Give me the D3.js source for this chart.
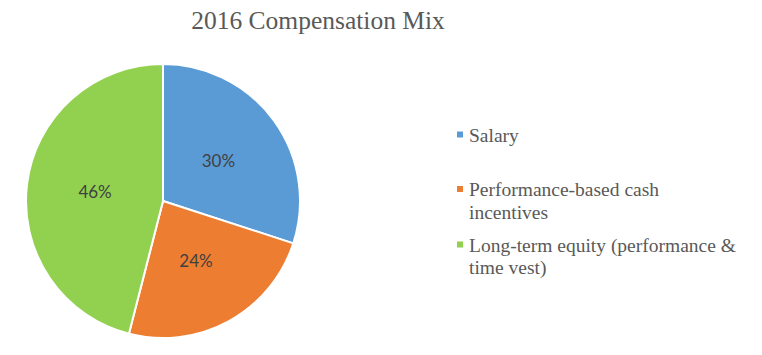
<!DOCTYPE html>
<html>
<head>
<meta charset="utf-8">
<script src="https://cdn.jsdelivr.net/npm/d3@7"></script>
<style>
  html, body { margin: 0; padding: 0; background: #fff; }
  svg { display: block; }
</style>
</head>
<body>
<svg id="chart" width="762" height="355"></svg>
<script>
const title = "2016 Compensation Mix";
const categories = ["Salary", "Performance-based cash incentives", "Long-term equity (performance & time vest)"];
const legendLines = [["Salary"], ["Performance-based cash", "incentives"], ["Long-term equity (performance &", "time vest)"]];
const values = [30, 24, 46];
const colors = ["#5B9BD5", "#ED7D31", "#92D050"];

const svg = d3.select("#chart");
const W = 762, H = 355;
svg.append("rect").attr("width", W).attr("height", H).attr("fill", "#fff");

svg.append("text")
  .attr("x", 318).attr("y", 28.5)
  .attr("text-anchor", "middle")
  .attr("font-family", "'Liberation Serif', 'Times New Roman', serif")
  .attr("font-size", 25.5)
  .attr("fill", "#595959")
  .text(title);

const cx = 163, cy = 201, R = 137;
const pie = d3.pie().sort(null).value(d => d)(values);
const arc = d3.arc().innerRadius(0).outerRadius(R);
const g = svg.append("g").attr("transform", `translate(${cx},${cy})`);
g.selectAll("path").data(pie).join("path")
  .attr("d", arc)
  .attr("fill", (d, i) => colors[i])
  .attr("stroke", "#fff")
  .attr("stroke-width", 2)
  .attr("stroke-linejoin", "round");

g.selectAll("text.lbl").data(pie).join("text")
  .attr("class", "lbl")
  .attr("x", d => arc.centroid(d)[0])
  .attr("y", d => arc.centroid(d)[1])
  .attr("dy", "0.35em")
  .attr("text-anchor", "middle")
  .attr("font-family", "Lato, 'Open Sans', sans-serif")
  .attr("font-size", 17)
  .attr("fill", "#404040")
  .text(d => d.value + "%");

const legendY = [141.5, 196, 251.5];
const lg = svg.append("g");
categories.forEach((c, i) => {
  lg.append("rect")
    .attr("x", 457).attr("y", legendY[i] - 10)
    .attr("width", 6).attr("height", 6)
    .attr("fill", colors[i]);
  const t = lg.append("text")
    .attr("font-family", "'Liberation Serif', 'Times New Roman', serif")
    .attr("font-size", 19.5)
    .attr("fill", "#595959");
  legendLines[i].forEach((ln, j) => {
    t.append("tspan").attr("x", 469).attr("y", legendY[i] + j * 22.5).text(ln);
  });
});
</script>
</body>
</html>
